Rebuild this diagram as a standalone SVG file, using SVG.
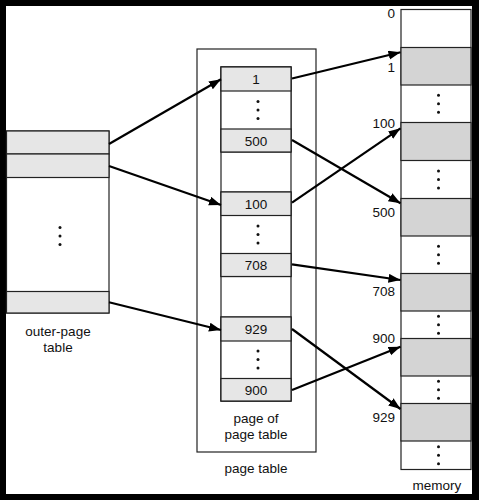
<svg xmlns="http://www.w3.org/2000/svg" width="479" height="500" viewBox="0 0 479 500">
  <defs>
    <style>
      .box { fill: #ffffff; stroke: #222222; stroke-width: 1.2; }
      .row { fill: #e6e6e6; stroke: #222222; stroke-width: 1.2; }
      .mrow { fill: #d4d4d4; stroke: #222222; stroke-width: 1.2; }
      .lbl { font-family: "Liberation Sans", Arial, sans-serif; font-size: 13.5px; fill: #111111; }
      .mid { text-anchor: middle; }
      .end { text-anchor: end; }
      .dot { fill: #111111; }
      .conn { stroke: #000000; stroke-width: 2.2; fill: none; marker-end: url(#arrow); }
    </style>
    <marker id="arrow" markerUnits="userSpaceOnUse" markerWidth="13" markerHeight="10" refX="12" refY="4.5" orient="auto">
      <path d="M0,0 L12,4.5 L0,9 z" fill="#000000"/>
    </marker>
    <g id="dots3">
      <circle cx="0" cy="-8.5" r="1.5"/>
      <circle cx="0" cy="0" r="1.5"/>
      <circle cx="0" cy="8.5" r="1.5"/>
    </g>
  </defs>

  <rect x="0" y="0" width="479" height="500" fill="#000000"/>
  <rect x="6" y="6" width="466" height="488" fill="#ffffff"/>

  <g id="outer-page-table">
    <rect class="box" x="6.5" y="131" width="102.5" height="182"/>
    <rect class="row" x="6.5" y="131" width="102.5" height="23"/>
    <rect class="row" x="6.5" y="154" width="102.5" height="23.5"/>
    <rect class="row" x="6.5" y="291.5" width="102.5" height="21.5"/>
    <use href="#dots3" class="dot" x="60" y="236"/>
    <text class="lbl mid" x="58" y="336">outer-page</text>
    <text class="lbl mid" x="58" y="352">table</text>
  </g>

  <g id="page-table">
    <rect class="box" x="197" y="49" width="119" height="403"/>
    <use href="#dots3" class="dot" x="258" y="170"/>
    <use href="#dots3" class="dot" x="258" y="295.5"/>
    <text class="lbl mid" x="256" y="473">page table</text>
  </g>

  <g id="page-of-page-table">
    <rect class="box" x="221" y="67" width="70" height="334"/>
    <rect class="box" x="221" y="67" width="70" height="85"/>
    <rect class="box" x="221" y="192" width="70" height="84.5"/>
    <rect class="box" x="221" y="317" width="70" height="84"/>
    <rect class="row" x="221" y="67" width="70" height="24"/>
    <rect class="row" x="221" y="129" width="70" height="23"/>
    <rect class="row" x="221" y="192" width="70" height="23.5"/>
    <rect class="row" x="221" y="253.5" width="70" height="23"/>
    <rect class="row" x="221" y="317" width="70" height="24"/>
    <rect class="row" x="221" y="378.5" width="70" height="22.5"/>
    <text class="lbl mid" x="256" y="84">1</text>
    <text class="lbl mid" x="256" y="145.5">500</text>
    <text class="lbl mid" x="256" y="209">100</text>
    <text class="lbl mid" x="256" y="270">708</text>
    <text class="lbl mid" x="256" y="334">929</text>
    <text class="lbl mid" x="256" y="394.5">900</text>
    <use href="#dots3" class="dot" x="258" y="110"/>
    <use href="#dots3" class="dot" x="258" y="234.5"/>
    <use href="#dots3" class="dot" x="258" y="359.5"/>
    <text class="lbl mid" x="256" y="423">page of</text>
    <text class="lbl mid" x="256" y="439">page table</text>
  </g>

  <g id="memory">
    <rect class="box" x="401" y="9.5" width="70" height="460"/>
    <rect class="mrow" x="401" y="47.5" width="70" height="37.5"/>
    <rect class="mrow" x="401" y="122.5" width="70" height="38"/>
    <rect class="mrow" x="401" y="198.5" width="70" height="37.5"/>
    <rect class="mrow" x="401" y="273.5" width="70" height="37.5"/>
    <rect class="mrow" x="401" y="338.5" width="70" height="37.5"/>
    <rect class="mrow" x="401" y="403.5" width="70" height="37.5"/>
    <use href="#dots3" class="dot" x="438.5" y="103.7"/>
    <use href="#dots3" class="dot" x="438.5" y="179.5"/>
    <use href="#dots3" class="dot" x="438.5" y="254.7"/>
    <use href="#dots3" class="dot" x="438.5" y="324.7"/>
    <use href="#dots3" class="dot" x="438.5" y="389.7"/>
    <use href="#dots3" class="dot" x="438.5" y="455.3"/>
    <text class="lbl end" x="395" y="18.3">0</text>
    <text class="lbl end" x="395" y="71.7">1</text>
    <text class="lbl end" x="395" y="128">100</text>
    <text class="lbl end" x="395" y="217">500</text>
    <text class="lbl end" x="395" y="296">708</text>
    <text class="lbl end" x="395" y="343">900</text>
    <text class="lbl end" x="395" y="422">929</text>
    <text class="lbl mid" x="437" y="490">memory</text>
  </g>

  <g id="connectors">
    <line class="conn" x1="109" y1="144" x2="221" y2="79.3"/>
    <line class="conn" x1="109" y1="166" x2="221" y2="205"/>
    <line class="conn" x1="109" y1="302.3" x2="221" y2="330"/>
    <line class="conn" x1="292" y1="78.5" x2="400.5" y2="52.3"/>
    <line class="conn" x1="292" y1="140" x2="400.5" y2="203.3"/>
    <line class="conn" x1="292" y1="202.7" x2="400.5" y2="128.3"/>
    <line class="conn" x1="292" y1="264.3" x2="400.5" y2="280"/>
    <line class="conn" x1="292" y1="329" x2="400.5" y2="409"/>
    <line class="conn" x1="292" y1="390" x2="400.5" y2="346.7"/>
  </g>
</svg>
